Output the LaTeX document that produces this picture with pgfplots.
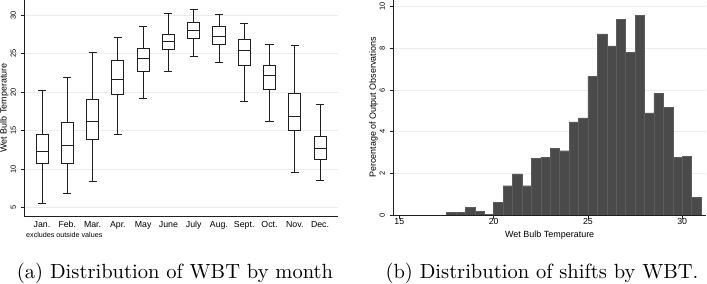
\documentclass[border=0pt]{standalone}
\usepackage{fontspec}
\usepackage{pgfplots}
\pgfplotsset{compat=1.18}
\usepgfplotslibrary{statistics}
\newfontfamily\arial{Liberation Sans}
\newfontfamily\capfont{lmroman10-regular.otf}
\definecolor{gridc}{gray}{0.93}
\definecolor{linec}{gray}{0.12}
\definecolor{barfill}{gray}{0.29}
\definecolor{baredge}{gray}{0.36}

\pgfplotstableread{
x y
17.5 0.16
18 0.16
18.5 0.41
19 0.20
19.5 0.05
20 0.63
20.5 1.43
21 2.00
21.5 1.43
22 2.73
22.5 2.80
23 3.20
23.5 3.10
24 4.47
24.5 4.67
25 6.66
25.5 8.67
26 8.10
26.5 9.37
27 7.79
27.5 9.55
28 4.90
28.5 5.82
29 5.16
29.5 2.80
30 2.83
30.5 0.86
31 0.86
}\histdata

\pgfplotsset{
  statastyle/.style={
    scale only axis, anchor=south west, clip=false,
    axis lines*=left,
    axis line style={linec, line width=0.8bp},
    ymajorgrids, grid style={gridc, line width=0.8bp},
    tick align=outside, major tick length=3.5bp,
    tick style={linec, line width=0.7bp},
    /pgf/number format/assume math mode=true,
    yticklabel style={font=\arial\fontsize{7.5}{8}\selectfont, inner sep=0pt, anchor=base, xshift=-4.9bp, rotate=90},
    xticklabel style={font=\arial\fontsize{8.8}{10}\selectfont, inner sep=0pt, anchor=base},
  },
  bx/.style n args={6}{
    boxplot/draw direction=y,
    boxplot prepared={draw position=#1, lower whisker=#2, lower quartile=#3,
      median=#4, upper quartile=#5, upper whisker=#6,
      box extend=0.48, whisker extend=0.32},
    draw=linec, fill=white, line width=0.8bp, solid
  }
}

\begin{document}
\begin{tikzpicture}
\useasboundingbox (0,0) rectangle (707bp,284bp);

% ---------- (a) boxplot ----------
\begin{axis}[statastyle,
  at={(24.3bp,67.3bp)}, width=313.7bp, height=216.7bp,
  xmin=0.30, xmax=12.71, ymin=3.83, ymax=31.99,
  xtick={1,...,12},
  xticklabels={Jan.,Feb.,Mar.,Apr.,May,June,July,Aug.,Sept.,Oct.,Nov.,Dec.},
  x tick style={draw=none},
  xticklabel style={yshift=-6.8bp},
  ytick={5,10,...,30},
]
\addplot[bx={1}{5.50}{10.70}{12.38}{14.50}{20.20}] coordinates {};
\addplot[bx={2}{6.84}{10.70}{13.07}{16.06}{21.95}] coordinates {};
\addplot[bx={3}{8.44}{13.90}{16.15}{19.10}{25.20}] coordinates {};
\addplot[bx={4}{14.55}{19.70}{21.69}{24.16}{27.10}] coordinates {};
\addplot[bx={5}{19.22}{22.77}{24.42}{25.67}{28.57}] coordinates {};
\addplot[bx={6}{22.68}{25.63}{26.58}{27.58}{30.26}] coordinates {};
\addplot[bx={7}{24.68}{27.00}{28.00}{29.05}{30.78}] coordinates {};
\addplot[bx={8}{23.85}{26.23}{27.23}{28.57}{30.09}] coordinates {};
\addplot[bx={9}{18.79}{23.55}{25.41}{26.93}{28.92}] coordinates {};
\addplot[bx={10}{16.15}{20.43}{22.16}{23.55}{26.19}] coordinates {};
\addplot[bx={11}{9.57}{15.06}{16.84}{19.83}{26.10}] coordinates {};
\addplot[bx={12}{8.53}{11.30}{12.73}{14.29}{18.44}] coordinates {};
\end{axis}
\node[font=\arial\fontsize{9}{10}\selectfont, rotate=90, anchor=base, inner sep=0pt] at (6.7bp,176bp) {Wet Bulb Temperature};
\node[font=\arial\fontsize{7.2}{8}\selectfont, anchor=base west, inner sep=0pt] at (26bp,46.5bp) {excludes outside values};

% ---------- (b) histogram ----------
\begin{axis}[statastyle,
  at={(393.3bp,68.3bp)}, width=312.7bp, height=215.7bp,
  xmin=14.68, xmax=31.26, ymin=0, ymax=10.29,
  xtick={15,20,25,30},
  xticklabel style={yshift=-5.3bp},
  ytick={0,2,...,10},
]
\addplot[ybar interval, fill=barfill, draw=baredge, line width=0.4bp] table[x=x,y=y] {\histdata};
\end{axis}
\draw[linec, line width=0.8bp] (393.3bp,68.3bp) -- (706bp,68.3bp);
\node[font=\arial\fontsize{9}{10}\selectfont, anchor=base, inner sep=0pt] at (549.7bp,46.5bp) {Wet Bulb Temperature};
\node[font=\arial\fontsize{9}{10}\selectfont, rotate=90, anchor=base, inner sep=0pt] at (375.8bp,176.5bp) {Percentage of Output Observations};

% ---------- captions ----------
\node[font=\capfont\fontsize{20.6}{24}\selectfont, anchor=base, inner sep=0pt] at (175bp,6bp) {(a) Distribution of WBT by month};
\node[font=\capfont\fontsize{20.6}{24}\selectfont, anchor=base, inner sep=0pt] at (542bp,6bp) {(b) Distribution of shifts by WBT.};
\end{tikzpicture}
\end{document}
